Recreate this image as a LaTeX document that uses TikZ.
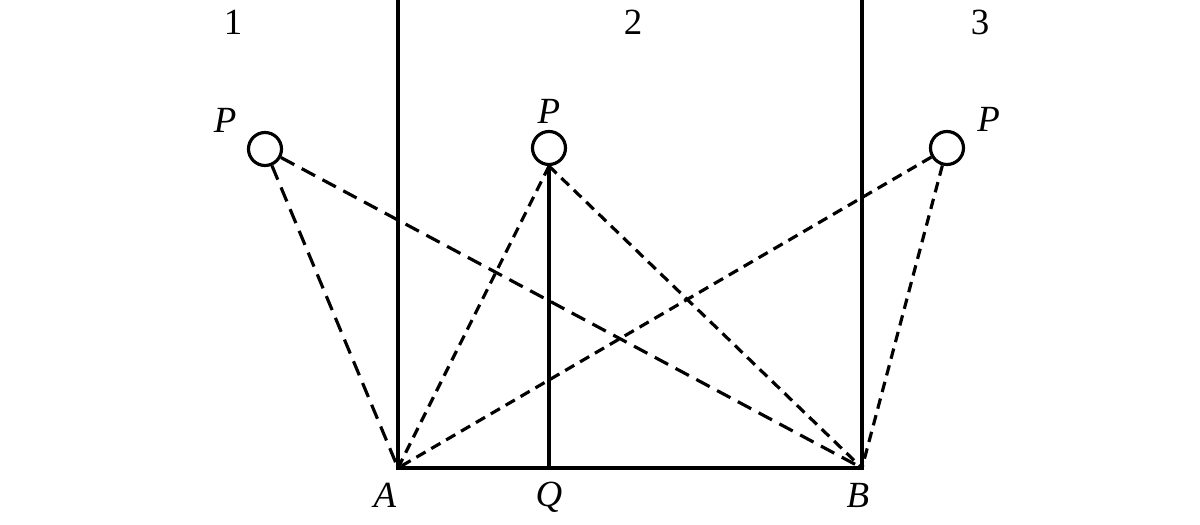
\documentclass[tikz,border=0pt]{standalone}
\usepackage{fontspec}
\setmainfont{Liberation Serif}
\usetikzlibrary{positioning}

\begin{document}
\begin{tikzpicture}[
  wall/.style={line width=0.9pt},
  ray/.style={line width=0.9pt, dash pattern=on 3pt off 1.9pt},
  long ray/.style={line width=0.9pt, dash pattern=on 4.3pt off 2.4pt},
  point/.style={circle, draw, line width=0.9pt, minimum size=0.33cm, inner sep=0pt},
  lab/.style={font=\fontsize{10.5}{12}\selectfont, inner sep=0pt}]

  \useasboundingbox (0,0) rectangle (12,5.25);

  % Base line with its end points
  \coordinate (A) at (3.98,0.57);
  \coordinate (Q) at (5.49,0.57);
  \coordinate (B) at (8.62,0.57);
  \coordinate (topA) at (3.98,5.25);
  \coordinate (topB) at (8.62,5.25);

  % Three positions of the point P
  \node [point] (p1) at (2.65,3.76) {};
  \node [point] (p2) at (5.49,3.77) {};
  \node [point] (p3) at (9.47,3.77) {};

  % Region numbers
  \node [lab] (n1) at (2.33,5.03) {1};
  \node [lab] (n2) at (6.33,5.03) {2};
  \node [lab] (n3) at (9.80,5.03) {3};

  % Labels of the points
  \node [lab, above left=0.03cm and 0.15cm of p1] (lp1) {\textit{P}};
  \node [lab, above=0.06cm of p2] (lp2) {\textit{P}};
  \node [lab, above right=0.03cm and 0.17cm of p3] (lp3) {\textit{P}};
  \node [lab] (la) at (3.85,0.30) {\textit{A}};
  \node [lab] (lq) at (5.49,0.28) {\textit{Q}};
  \node [lab] (lb) at (8.58,0.30) {\textit{B}};

  % Walls and base
  \draw [wall] (topA) -- (A) -- (B) -- (topB);
  \draw [wall] (p2.south) -- (Q);

  % Lines of sight
  \draw [long ray] (p1) -- (A);
  \draw [long ray] (p1) -- (B);
  \draw [ray] (p2.south) -- (A);
  \draw [ray] (p2.south) -- (B);
  \draw [ray] (p3) -- (A);
  \draw [ray] (p3) -- (B);
\end{tikzpicture}
\end{document}
